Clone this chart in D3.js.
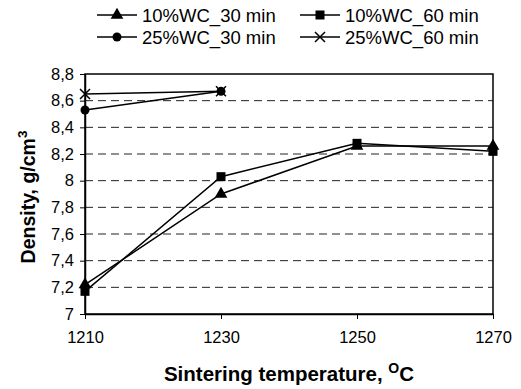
<!DOCTYPE html>
<html><head><meta charset="utf-8">
<script src="https://cdn.jsdelivr.net/npm/d3@7/dist/d3.min.js"></script>
<style>body{margin:0;background:#fff}svg{display:block}text{font-family:Arial,"Liberation Sans",sans-serif}</style>
</head><body><svg id="c" width="521" height="389"></svg>
<script>
const temperatures = [1210, 1230, 1250, 1270];
const wc10_30 = [7.22, 7.90, 8.26, 8.26];
const wc10_60 = [7.17, 8.03, 8.28, 8.22];
const wc25_30 = [8.53, 8.67];
const wc25_60 = [8.65, 8.67];
const seriesNames = ["10%WC_30 min", "10%WC_60 min", "25%WC_30 min", "25%WC_60 min"];
const yTicks = [7, 7.2, 7.4, 7.6, 7.8, 8, 8.2, 8.4, 8.6, 8.8];

const svg = d3.select("#c");
const L = 85, R = 493, T = 74, B = 314;
const x = d3.scaleLinear().domain([1210, 1270]).range([L, R]);
const y = d3.scaleLinear().domain([7, 8.8]).range([B, T]);
const fmt = d => String(d).replace(".", ",");

// grid
svg.append("g").selectAll("line").data(yTicks.filter(d => d > 7 && d < 8.8)).join("line")
  .attr("x1", L).attr("x2", R).attr("y1", d => y(d)).attr("y2", d => y(d))
  .attr("stroke", "#222").attr("stroke-width", 1).attr("stroke-dasharray", "8,5");

// frame
svg.append("rect").attr("x", L).attr("y", T).attr("width", R - L).attr("height", B - T)
  .attr("fill", "none").attr("stroke", "#000").attr("stroke-width", 1.5);

const xa = svg.append("g").attr("transform", `translate(0,${B})`)
  .call(d3.axisBottom(x).tickValues(temperatures).tickFormat(d3.format("d")).tickSizeInner(5).tickSizeOuter(0).tickPadding(12));
const ya = svg.append("g").attr("transform", `translate(${L},0)`)
  .call(d3.axisLeft(y).tickValues(yTicks).tickFormat(fmt).tickSizeInner(5).tickSizeOuter(0).tickPadding(6));
[xa, ya].forEach(a => {
  a.select(".domain").attr("stroke-width", 1.5);
  a.selectAll("line").attr("stroke-width", 1);
  a.selectAll("text").attr("font-size", 16.5).attr("fill", "#000");
});

const series = [
  {vals: wc10_30, sym: "tri"},
  {vals: wc10_60, sym: "sq"},
  {vals: wc25_30, sym: "circ"},
  {vals: wc25_60, sym: "x"}
];
const line = d3.line().x((d, i) => x(temperatures[i])).y(d => y(d));

function marker(g, sym, cx, cy) {
  if (sym === "tri") g.append("path").attr("d", d3.symbol(d3.symbolTriangle, 70)()).attr("transform", `translate(${cx},${cy})`).attr("fill", "#000");
  else if (sym === "sq") g.append("rect").attr("x", cx - 4.5).attr("y", cy - 4.5).attr("width", 9).attr("height", 9).attr("fill", "#000");
  else if (sym === "circ") g.append("circle").attr("cx", cx).attr("cy", cy).attr("r", 4.5).attr("fill", "#000");
  else g.append("path").attr("d", `M${cx-5},${cy-5}L${cx+5},${cy+5}M${cx-5},${cy+5}L${cx+5},${cy-5}`).attr("stroke", "#000").attr("stroke-width", 1.5);
}

series.forEach(s => {
  svg.append("path").attr("d", line(s.vals)).attr("fill", "none").attr("stroke", "#000").attr("stroke-width", 1.5);
  const g = svg.append("g");
  s.vals.forEach((v, i) => marker(g, s.sym, x(temperatures[i]), y(v)));
});

// legend
const legPos = [[97, 15], [300, 15], [97, 37], [300, 37]];
series.forEach((s, i) => {
  const [lx, ly] = legPos[i];
  const g = svg.append("g");
  g.append("line").attr("x1", lx).attr("x2", lx + 40).attr("y1", ly).attr("y2", ly).attr("stroke", "#000").attr("stroke-width", 1.5);
  marker(g, s.sym, lx + 20, ly);
  g.append("text").attr("x", lx + 45).attr("y", ly + 6.5).attr("font-size", 18.5).text(seriesNames[i]);
});

// axis titles
const xt = svg.append("text").attr("x", 289).attr("y", 381).attr("text-anchor", "middle")
  .attr("font-size", 20.5).attr("font-weight", "bold");
xt.append("tspan").text("Sintering temperature, ");
xt.append("tspan").attr("font-size", 14).attr("dy", -8).text("O");
xt.append("tspan").attr("dy", 8).text("C");

const yt = svg.append("text").attr("transform", "translate(35,197) rotate(-90)").attr("text-anchor", "middle")
  .attr("font-size", 19.5).attr("font-weight", "bold");
yt.append("tspan").text("Density, g/cm");
yt.append("tspan").attr("font-size", 13.5).attr("dy", -8).text("3");
</script></body></html>
